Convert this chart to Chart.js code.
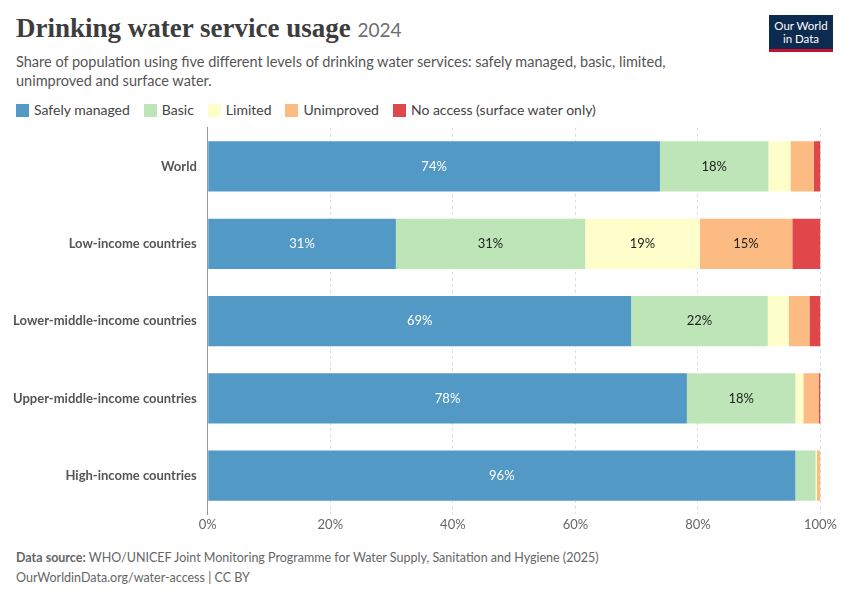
<!DOCTYPE html>
<html lang="en">
<head>
<meta charset="UTF-8">
<title>Drinking water service usage</title>
<script src="https://cdn.jsdelivr.net/npm/chart.js"></script>
<style>
    body { margin: 0; background: #fff; font-family: Lato, sans-serif; color: #5b5b5b; }
    .wrap { position: relative; width: 850px; height: 600px; }
    h1 { position: absolute; left: 16px; top: 13px; margin: 0; font: 600 27px "Liberation Serif", serif; color: #3d3d3d; }
    h1 span { font: 400 19px Lato, sans-serif; color: #6e6e6e; }
    .sub { position: absolute; left: 16px; top: 52px; width: 700px; font-size: 14.5px; line-height: 19px; color: #555; }
    .logo { position: absolute; left: 769px; top: 15px; width: 64px; height: 37px; background: #0d2a4f; color: #fff;
            font-size: 11.5px; line-height: 13px; text-align: center; padding-top: 4px; box-sizing: border-box; border-bottom: 3px solid #c8102e; }
    .legend { position: absolute; left: 16px; top: 101px; font-size: 14px; color: #444; display: flex; gap: 14px; }
    .legend i { display: inline-block; width: 13px; height: 13px; vertical-align: -2px; margin-right: 5px; }
    .foot { position: absolute; left: 16px; top: 548px; font-size: 12.5px; line-height: 20px; color: #666; }
    .foot b { font-weight: 700; }
    #c { position: absolute; left: 0; top: 117px; }
</style>
</head>
<body>
<div class="wrap">
    <h1>Drinking water service usage <span>2024</span></h1>
    <div class="sub">Share of population using five different levels of drinking water services: safely managed, basic, limited, unimproved and surface water.</div>
    <div class="logo">Our World<br>in Data</div>
    <div class="legend" id="legend"></div>
    <canvas id="c" width="840" height="419"></canvas>
    <div class="foot"><b>Data source:</b> WHO/UNICEF Joint Monitoring Programme for Water Supply, Sanitation and Hygiene (2025)<br>OurWorldinData.org/water-access | CC BY</div>
</div>
<script>
const categories = ['World', 'Low-income countries', 'Lower-middle-income countries', 'Upper-middle-income countries', 'High-income countries'];
const seriesNames = ['Safely managed', 'Basic', 'Limited', 'Unimproved', 'No access (surface water only)'];
const safelyManaged = [73.8, 30.7, 69.1, 78.2, 95.9];
const basic = [17.7, 30.9, 22.3, 17.7, 3.3];
const limited = [3.6, 18.7, 3.4, 1.3, 0.2];
const unimproved = [3.8, 15.1, 3.4, 2.5, 0.6];
const noAccess = [1.1, 4.6, 1.8, 0.3, 0.0];
const xTicks = [0, 20, 40, 60, 80, 100];

const colors = ['#5399c6', '#bee5b8', '#fefecb', '#fcbb83', '#e0474b'];
const labelColors = ['#fff', '#222', '#222', '#222', '#fff'];
const values = [safelyManaged, basic, limited, unimproved, noAccess];

document.getElementById('legend').innerHTML = seriesNames.map((n, i) =>
    `<span><i style="background:${colors[i]}"></i>${n}</span>`).join('');

// draw percentage labels inside wide enough segments
const barLabels = {
    id: 'barLabels',
    afterDatasetsDraw(chart) {
        const ctx = chart.ctx;
        ctx.save();
        ctx.font = '13px Lato';
        ctx.textAlign = 'center';
        ctx.textBaseline = 'middle';
        chart.data.datasets.forEach((ds, di) => {
            chart.getDatasetMeta(di).data.forEach((bar, i) => {
                const v = ds.data[i];
                if (v < 10) return;
                ctx.fillStyle = labelColors[di];
                ctx.fillText(Math.round(v) + '%', (bar.x + bar.base) / 2, bar.y);
            });
        });
        ctx.restore();
    }
};

new Chart(document.getElementById('c'), {
    type: 'bar',
    data: {
        labels: categories,
        datasets: seriesNames.map((n, i) => ({
            label: n, data: values[i], backgroundColor: colors[i],
            barPercentage: 0.65, categoryPercentage: 1
        }))
    },
    options: {
        indexAxis: 'y',
        responsive: false,
        animation: false,
        layout: { padding: { left: 10, right: 14, top: 0, bottom: 0 } },
        scales: {
            x: {
                stacked: true, min: 0, max: 100,
                afterBuildTicks: ax => { ax.ticks = xTicks.map(v => ({ value: v })); },
                ticks: { callback: v => v + '%', color: '#666', font: { family: 'Lato', size: 13 } },
                grid: { color: '#dddddd', drawTicks: false },
                border: { display: false, dash: [3, 3] }
            },
            y: {
                stacked: true,
                ticks: { color: '#555', font: { family: 'Lato', size: 13, weight: 'bold' } },
                grid: { display: false },
                border: { color: '#999' }
            }
        },
        plugins: { legend: { display: false }, tooltip: { enabled: false } }
    },
    plugins: [barLabels]
});
</script>
</body>
</html>
